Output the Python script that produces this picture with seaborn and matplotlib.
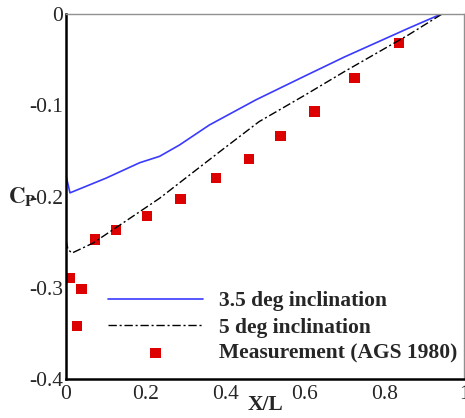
import numpy as np
import pandas as pd
import matplotlib
matplotlib.use("Agg")
import matplotlib.pyplot as plt
import seaborn as sns
from matplotlib.ticker import MultipleLocator

# ---- data ----
x_35 = [0.0, 0.01, 0.10, 0.185, 0.235, 0.285, 0.36, 0.4775, 0.60, 0.70, 0.86, 0.943]
cp_35 = [-0.177, -0.196, -0.180, -0.163, -0.156, -0.1436, -0.1217, -0.094, -0.068, -0.047, -0.0157, 0.0]

x_5 = [0.0, 0.005, 0.015, 0.068, 0.15, 0.235, 0.30, 0.38, 0.485, 0.60, 0.70, 0.80, 0.86, 0.945]
cp_5 = [-0.248, -0.258, -0.262, -0.251, -0.227, -0.202, -0.180, -0.153, -0.118, -0.089, -0.063, -0.038, -0.023, 0.0]

x_meas = [0.01, 0.039, 0.027, 0.0725, 0.125, 0.204, 0.2875, 0.377, 0.46, 0.539, 0.624, 0.725, 0.8375]
cp_meas = [-0.289, -0.3015, -0.342, -0.247, -0.237, -0.2215, -0.2028, -0.1794, -0.159, -0.1337, -0.107, -0.0705, -0.032]

labels = ["3.5 deg inclination", "5 deg inclination", "Measurement (AGS 1980)"]

sns.set_style("white")
plt.rcParams['font.family'] = ['Liberation Serif', 'DejaVu Serif']
plt.rcParams['mathtext.fontset'] = 'stix'

fig = plt.figure(figsize=(4.65, 4.18), dpi=100)
ax = fig.add_axes([66/465, 39/418, 398/465, 365/418])

sns.lineplot(x=x_35, y=cp_35, ax=ax, color='#3a3aff', lw=1.2, label=labels[0], sort=False)
sns.lineplot(x=x_5, y=cp_5, ax=ax, color='black', lw=1.0, label=labels[1], sort=False)
ax.lines[-1].set_linestyle((0, (6, 2, 1.5, 2)))
sns.scatterplot(x=x_meas, y=cp_meas, ax=ax, color='#dd0000', marker='s', s=55,
                edgecolor='none', label=labels[2])

ax.set_xlim(0, 1)
ax.set_ylim(-0.4, 0)
ax.xaxis.set_minor_locator(MultipleLocator(0.1))
ax.yaxis.set_minor_locator(MultipleLocator(0.05))
ax.set_xticks([0, 0.2, 0.4, 0.6, 0.8, 1])
ax.set_xticklabels(['0', '0.2', '0.4', '0.6', '0.8', '1'])
ax.set_yticks([-0.4, -0.3, -0.2, -0.1, 0])
ax.set_yticklabels(['-0.4', '-0.3', '-0.2', '-0.1', '0'])
ax.tick_params(which='major', length=0, labelsize=15.5)
ax.tick_params(axis='x', which='major', pad=4)
ax.tick_params(axis='y', which='major', pad=2)
ax.tick_params(which='minor', length=4, width=1, direction='out', color='black')

for s in ['left', 'bottom']:
    ax.spines[s].set_color('black')
    ax.spines[s].set_linewidth(1.8)
for s in ['top', 'right']:
    ax.spines[s].set_color('#909090')
    ax.spines[s].set_linewidth(1.0)

ax.set_xlabel('X/L', fontsize=15.5, fontweight='bold', labelpad=-6)
ax.set_ylabel(r'$\mathbf{C_P}$', fontsize=16.5, rotation=0)
ax.yaxis.set_label_coords(-0.11, 0.465)

leg = ax.legend(loc='upper left', bbox_to_anchor=(0.1055, 0.24), frameon=False,
                prop={'size': 15.5, 'weight': 'bold'}, handlelength=4.4,
                handletextpad=0.75, labelspacing=0.28, borderpad=0, borderaxespad=0)

fig.savefig('out.png', dpi=100)
